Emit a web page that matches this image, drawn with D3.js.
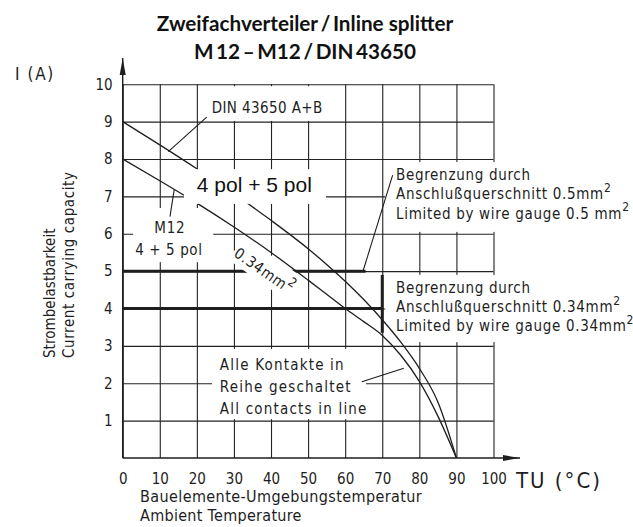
<!DOCTYPE html>
<html><head><meta charset="utf-8">
<script src="https://cdn.jsdelivr.net/npm/d3@7"></script>
<style>
html,body{margin:0;padding:0;background:#fff;}
svg{display:block;}
</style></head><body>
<svg id="chart" width="633" height="527"></svg>
<script>
// Current carrying capacity vs. ambient temperature
const tempTicks = [0, 10, 20, 30, 40, 50, 60, 70, 80, 90, 100];
const currentTicks = [1, 2, 3, 4, 5, 6, 7, 8, 9, 10];

// DIN 43650 A+B derating curve
const dinTemp    = [0, 10, 20, 30, 40, 50, 55, 60, 65, 70, 75, 80, 85, 90];
const dinCurrent = [9, 8.38, 7.74, 7.07, 6.36, 5.6, 5.18, 4.73, 4.24, 3.7, 3.1, 2.4, 1.5, 0];

// M12 4 + 5 pol derating curve
const m12Temp    = [0, 10, 20, 30, 40, 50, 55, 60, 65, 70, 75, 80, 85, 90];
const m12Current = [8, 7.42, 6.82, 6.18, 5.5, 4.76, 4.38, 4.0, 3.65, 3.28, 2.75, 2.05, 1.12, 0];

// Limits set by the wire gauge
const gaugeNames   = ["0.5mm", "0.34mm"];
const gaugeCurrent = [5, 4];
const gaugeTempEnd = [65.5, 70];

const ISO = "'DejaVu Sans Condensed','DejaVu Sans',sans-serif";
const INK = "#1e1e1e";

const svg = d3.select("#chart");
const plotL = 122.7, plotR = 493.5, plotT = 84.3, plotB = 458;
const x = d3.scaleLinear().domain([0, 100]).range([plotL, plotR]);
const y = d3.scaleLinear().domain([0, 10]).range([plotB, plotT]);

// title
const title = svg.append("g").attr("font-family", "Lato, 'Open Sans', sans-serif")
  .attr("font-weight", 700).attr("font-size", 20.7).attr("text-anchor", "middle").attr("fill", "#111");
title.append("text").attr("x", 305).attr("y", 31).text("Zweifachverteiler\u2009/\u2009Inline splitter");
title.append("text").attr("x", 305).attr("y", 59).text("M\u200912\u2009\u2013\u2009M12\u2009/\u2009DIN\u200943650");

// grid + tick labels
const gx = svg.append("g").attr("transform", `translate(0,${plotB})`)
  .call(d3.axisBottom(x).tickValues(tempTicks).tickSize(-(plotB - plotT)).tickPadding(15).tickFormat(d3.format("d")));
const gy = svg.append("g").attr("transform", `translate(${plotL},0)`)
  .call(d3.axisLeft(y).tickValues(currentTicks).tickSize(-(plotR - plotL)).tickPadding(10).tickFormat(d3.format("d")));
[gx, gy].forEach(g => {
  g.select(".domain").remove();
  g.selectAll(".tick line").attr("stroke", "#222").attr("stroke-width", 1.1);
  g.selectAll(".tick text").attr("font-family", ISO).attr("font-size", 15).attr("fill", INK);
});

// label backgrounds that break the grid
const gridMasks = [
  [22.2, 55.9, 9.95, 9.02],   // DIN 43650 A+B
  [2.8, 24.4, 6.69, 5.24],    // M12 4 + 5 pol
  [70.8, 140, 7.92, 6.05],    // 0.5 mm² note
  [70.8, 140, 4.90, 3.10],    // 0.34 mm² note
  [24.1, 65.6, 2.92, 1.04]    // contacts in line
];
svg.append("g").selectAll("rect").data(gridMasks).join("rect")
  .attr("x", d => x(d[0])).attr("width", d => x(d[1]) - x(d[0]))
  .attr("y", d => y(d[2])).attr("height", d => y(d[3]) - y(d[2]))
  .attr("fill", "#fff");

// axes with arrows
const axes = svg.append("g").attr("stroke", INK).attr("fill", INK);
axes.append("line").attr("x1", x(0)).attr("x2", 520).attr("y1", y(0)).attr("y2", y(0)).attr("stroke-width", 1.4);
axes.append("line").attr("x1", x(0)).attr("x2", x(0)).attr("y1", y(0)).attr("y2", 58).attr("stroke-width", 1.4);
axes.append("path").attr("stroke", "none").attr("d", `M${520},${y(0)} L503,${y(0) - 3} L503,${y(0) + 3} Z`);
axes.append("path").attr("stroke", "none").attr("d", `M${x(0)},58 L${x(0) - 3},75 L${x(0) + 3},75 Z`);

// wire gauge limits
const limits = svg.append("g").attr("stroke", INK).attr("stroke-width", 3);
gaugeCurrent.forEach((c, i) => {
  limits.append("line").attr("x1", x(0)).attr("x2", x(gaugeTempEnd[i])).attr("y1", y(c)).attr("y2", y(c));
});
limits.append("line").attr("x1", x(70)).attr("x2", x(70)).attr("y1", y(4.9)).attr("y2", y(3.35));

// derating curves
const line = d3.line().x(d => x(d[0])).y(d => y(d[1])).curve(d3.curveMonotoneX);
const curves = [d3.zip(dinTemp, dinCurrent), d3.zip(m12Temp, m12Current)];
svg.append("g").selectAll("path").data(curves).join("path")
  .attr("d", line).attr("fill", "none").attr("stroke", INK).attr("stroke-width", 1.3);

// label backgrounds that break curves
svg.append("rect").attr("x", x(16.5)).attr("width", x(54.8) - x(16.5))
  .attr("y", y(7.73)).attr("height", y(6.80) - y(7.73)).attr("fill", "#fff");
svg.append("rect").attr("x", -36).attr("y", -17).attr("width", 72).attr("height", 28)
  .attr("transform", `translate(${x(38.1)},${y(5.0)}) rotate(35)`).attr("fill", "#fff");

// leader lines
const leaders = [
  [[22.65, 9.12], [12.3, 8.20]],
  [[12.75, 6.46], [13.9, 7.19]],
  [[72.8, 7.57], [64.9, 5.03]],
  [[64.5, 2.04], [75.8, 2.40]]
];
svg.append("g").selectAll("line").data(leaders).join("line")
  .attr("x1", d => x(d[0][0])).attr("y1", d => y(d[0][1]))
  .attr("x2", d => x(d[1][0])).attr("y2", d => y(d[1][1]))
  .attr("stroke", INK).attr("stroke-width", 1.1);

// annotations
const ann = svg.append("g").attr("font-family", ISO).attr("fill", INK).attr("font-size", 15).attr("letter-spacing", 0.7);
function note(tx, baselines, lines, sup, ls) {
  lines.forEach((s, i) => {
    const t = ann.append("text").attr("x", x(tx)).attr("y", baselines[i]).text(s);
    if (ls) t.attr("letter-spacing", ls);
    if (sup && sup[i]) t.append("tspan").attr("dy", "-0.6em").attr("font-size", 12).text("2");
  });
}
note(73.7, [180, 199, 218.5],
  ["Begrenzung durch", "Anschlu\u00dfquerschnitt " + gaugeNames[0], "Limited by wire gauge 0.5 mm"], [0, 1, 1]);
note(73.7, [293, 312, 331],
  ["Begrenzung durch", "Anschlu\u00dfquerschnitt " + gaugeNames[1], "Limited by wire gauge " + gaugeNames[1]], [0, 1, 1]);
note(26.2, [370, 392, 414], ["Alle Kontakte in", "Reihe geschaltet", "All contacts in line"], null, 1.2);

ann.append("text").attr("x", x(24.0)).attr("y", y(9.23)).attr("letter-spacing", 0.4).text("DIN 43650 A+B");
ann.append("text").attr("x", x(12.7)).attr("y", y(6.02)).attr("text-anchor", "middle").text("M12");
ann.append("text").attr("x", x(12.45)).attr("y", y(5.43)).attr("text-anchor", "middle").attr("letter-spacing", 0.6).text("4 + 5 pol");
const rot = ann.append("text").attr("transform", `translate(${x(38.1)},${y(5.0)}) rotate(35)`)
  .attr("text-anchor", "middle").attr("y", 5).text(gaugeNames[1]);
rot.append("tspan").attr("dy", "-0.6em").attr("font-size", 13).text("2");

svg.append("text").attr("x", x(20)).attr("y", y(7.12)).attr("font-family", "'Liberation Sans', Arial, sans-serif")
  .attr("font-size", 21).attr("fill", "#111").text("4 pol + 5 pol");

// axis titles
const at = svg.append("g").attr("font-family", ISO).attr("fill", INK);
at.append("text").attr("x", 15).attr("y", 80).attr("font-size", 17).attr("letter-spacing", 1.6).text("I (A)");
at.append("text").attr("transform", "translate(55,358) rotate(-90)").attr("font-size", 15).attr("letter-spacing", 0.05).text("Strombelastbarkeit");
at.append("text").attr("transform", "translate(74,358) rotate(-90)").attr("font-size", 15).attr("letter-spacing", 0.6).text("Current carrying capacity");
at.append("text").attr("x", 516).attr("y", 488).attr("font-size", 22).attr("letter-spacing", 2).text("TU (\u00b0C)");
at.append("text").attr("x", 140).attr("y", 502).attr("font-size", 16).attr("letter-spacing", 0.4).text("Bauelemente-Umgebungstemperatur");
at.append("text").attr("x", 140).attr("y", 521).attr("font-size", 16).attr("letter-spacing", 0.3).text("Ambient Temperature");
</script>
</body></html>
